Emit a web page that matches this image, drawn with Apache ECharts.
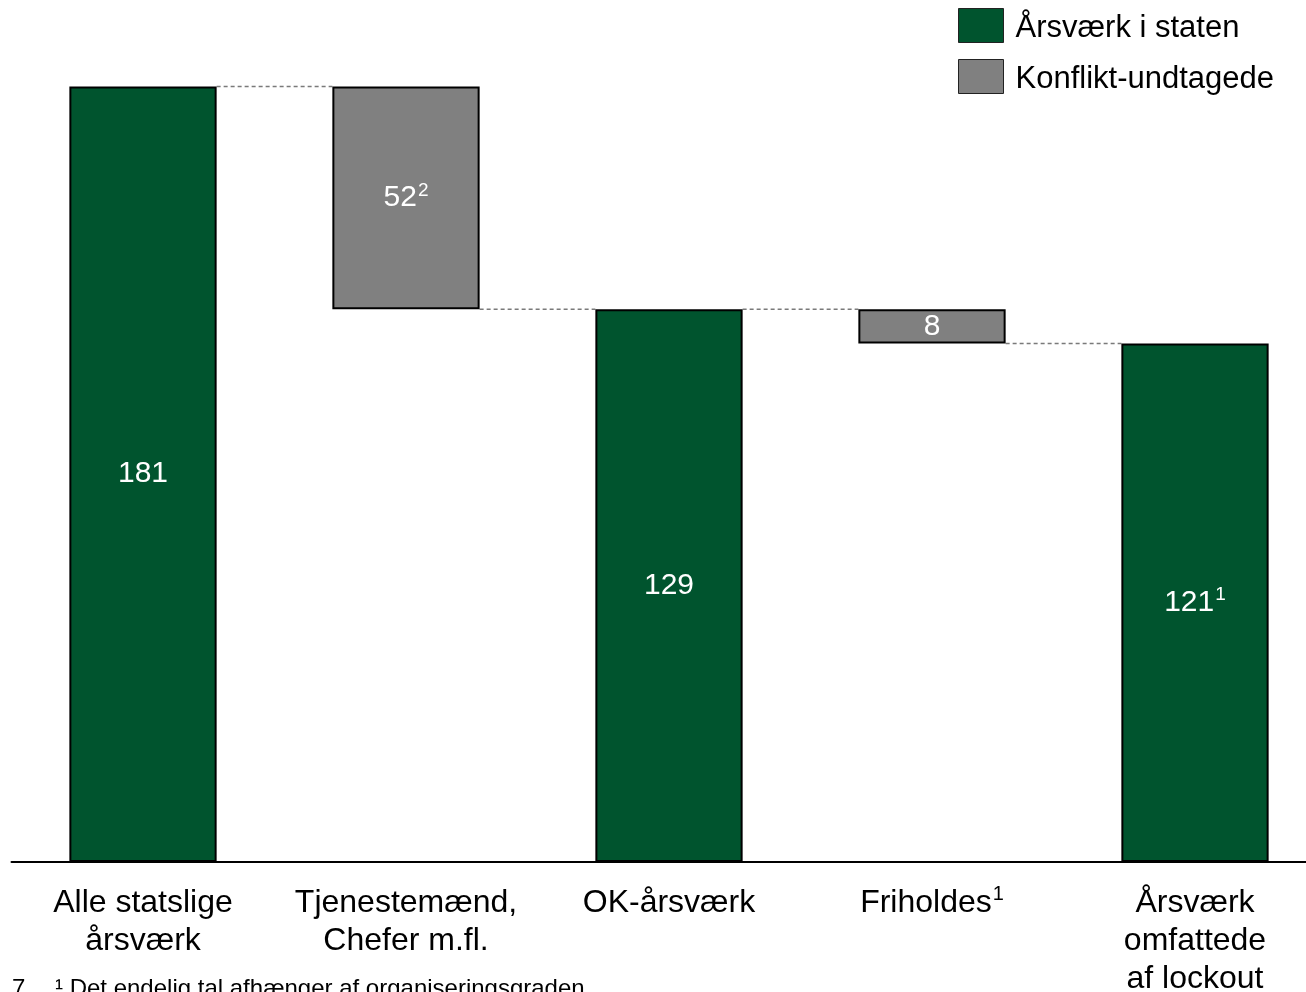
<!DOCTYPE html>
<html>
<head>
<meta charset="utf-8">
<script src="https://cdn.jsdelivr.net/npm/echarts@6/dist/echarts.min.js"></script>
<style>html,body{margin:0;padding:0;background:#fff}#c{width:1306px;height:992px}</style>
</head>
<body>
<div id="c"></div>
<script>
const categories = ['Alle statslige\nårsværk', 'Tjenestemænd,\nChefer m.fl.', 'OK-årsværk', 'Friholdes{s|1}', 'Årsværk\nomfattede\naf lockout'];
const baseValues = [0, 129, 0, 121, 0];
const greenValues = [181, null, 129, null, 121];
const grayValues = [null, 52, null, 8, null];
const labelSup = ['', '2', '', '', '1'];
const connectorLevels = [181, 129, 129, 121];
const seriesNames = ['Årsværk i staten', 'Konflikt-undtagede'];

const GREEN = '#00542E', GRAY = '#808080';
const FONT = 'Liberation Sans, Arial, sans-serif';

const chart = echarts.init(document.getElementById('c'));
const valLabel = {
  show: true, position: 'inside', color: '#fff', fontFamily: FONT, fontSize: 30,
  formatter: p => labelSup[p.dataIndex] ? `{a|${p.value}}{s|${labelSup[p.dataIndex]}}` : `{a|${p.value}}`,
  rich: {
    a: { color: '#fff', fontFamily: FONT, fontSize: 30, lineHeight: 34 },
    s: { color: '#fff', fontFamily: FONT, fontSize: 19, lineHeight: 34, verticalAlign: 'top', padding: [0, 0, 0, 1] }
  }
};
chart.setOption({
  animation: false,
  backgroundColor: '#fff',
  grid: { left: 11.5, right: -20.5, top: 5, bottom: 130, containLabel: false, outerBoundsMode: 'none' },
  legend: {
    data: seriesNames, orient: 'vertical', left: 958, top: 8, padding: 0, itemWidth: 45, itemHeight: 34, itemGap: 15,
    icon: 'rect',
    formatter: n => `{t|${n}}`,
    textStyle: {
      fontFamily: FONT, fontSize: 31, color: '#000',
      rich: { t: { fontFamily: FONT, fontSize: 31, color: '#000', padding: [6, 0, 0, 7] } }
    },
    itemStyle: { borderColor: '#222', borderWidth: 1 }
  },
  xAxis: {
    type: 'category', data: categories,
    axisLine: { lineStyle: { color: '#000', width: 2 } },
    axisTick: { show: false },
    axisLabel: {
      interval: 0, margin: 22, color: '#000', fontFamily: FONT, fontSize: 32, lineHeight: 38,
      rich: { s: { fontFamily: FONT, fontSize: 20, color: '#000', verticalAlign: 'top', lineHeight: 38, padding: [0, 0, 0, 1] } }
    }
  },
  yAxis: { type: 'value', min: 0, max: 200, show: false, splitLine: { show: false } },
  series: [
    { type: 'bar', stack: 'w', data: baseValues, barWidth: '56%', itemStyle: { color: 'transparent' }, silent: true },
    { name: seriesNames[0], type: 'bar', stack: 'w', data: greenValues, itemStyle: { color: GREEN, borderColor: '#000', borderWidth: 2 }, label: valLabel },
    { name: seriesNames[1], type: 'bar', stack: 'w', data: grayValues, itemStyle: { color: GRAY, borderColor: '#000', borderWidth: 2 }, label: valLabel },
    {
      type: 'custom', silent: true, z: 1,
      data: connectorLevels.map((v, i) => [i, v]),
      encode: { x: 0, y: 1 },
      renderItem: (params, api) => {
        const pt = api.coord([api.value(0), api.value(1)]);
        const bw = api.size([1, 0])[0];
        const barW = bw * 0.56;
        return {
          type: 'line',
          shape: { x1: pt[0] + barW / 2, y1: pt[1], x2: pt[0] + bw - barW / 2, y2: pt[1] },
          style: { stroke: '#7a7a7a', lineWidth: 1.5, lineDash: [4, 3] }
        };
      }
    }
  ],
  graphic: [
    { type: 'text', left: 12, top: 977, style: { text: '7', font: '24px ' + FONT, fill: '#000' } },
    { type: 'text', left: 55, top: 977, style: { text: '¹ Det endelig tal afhænger af organiseringsgraden', font: '24px ' + FONT, fill: '#000' } }
  ]
});
</script>
</body>
</html>
